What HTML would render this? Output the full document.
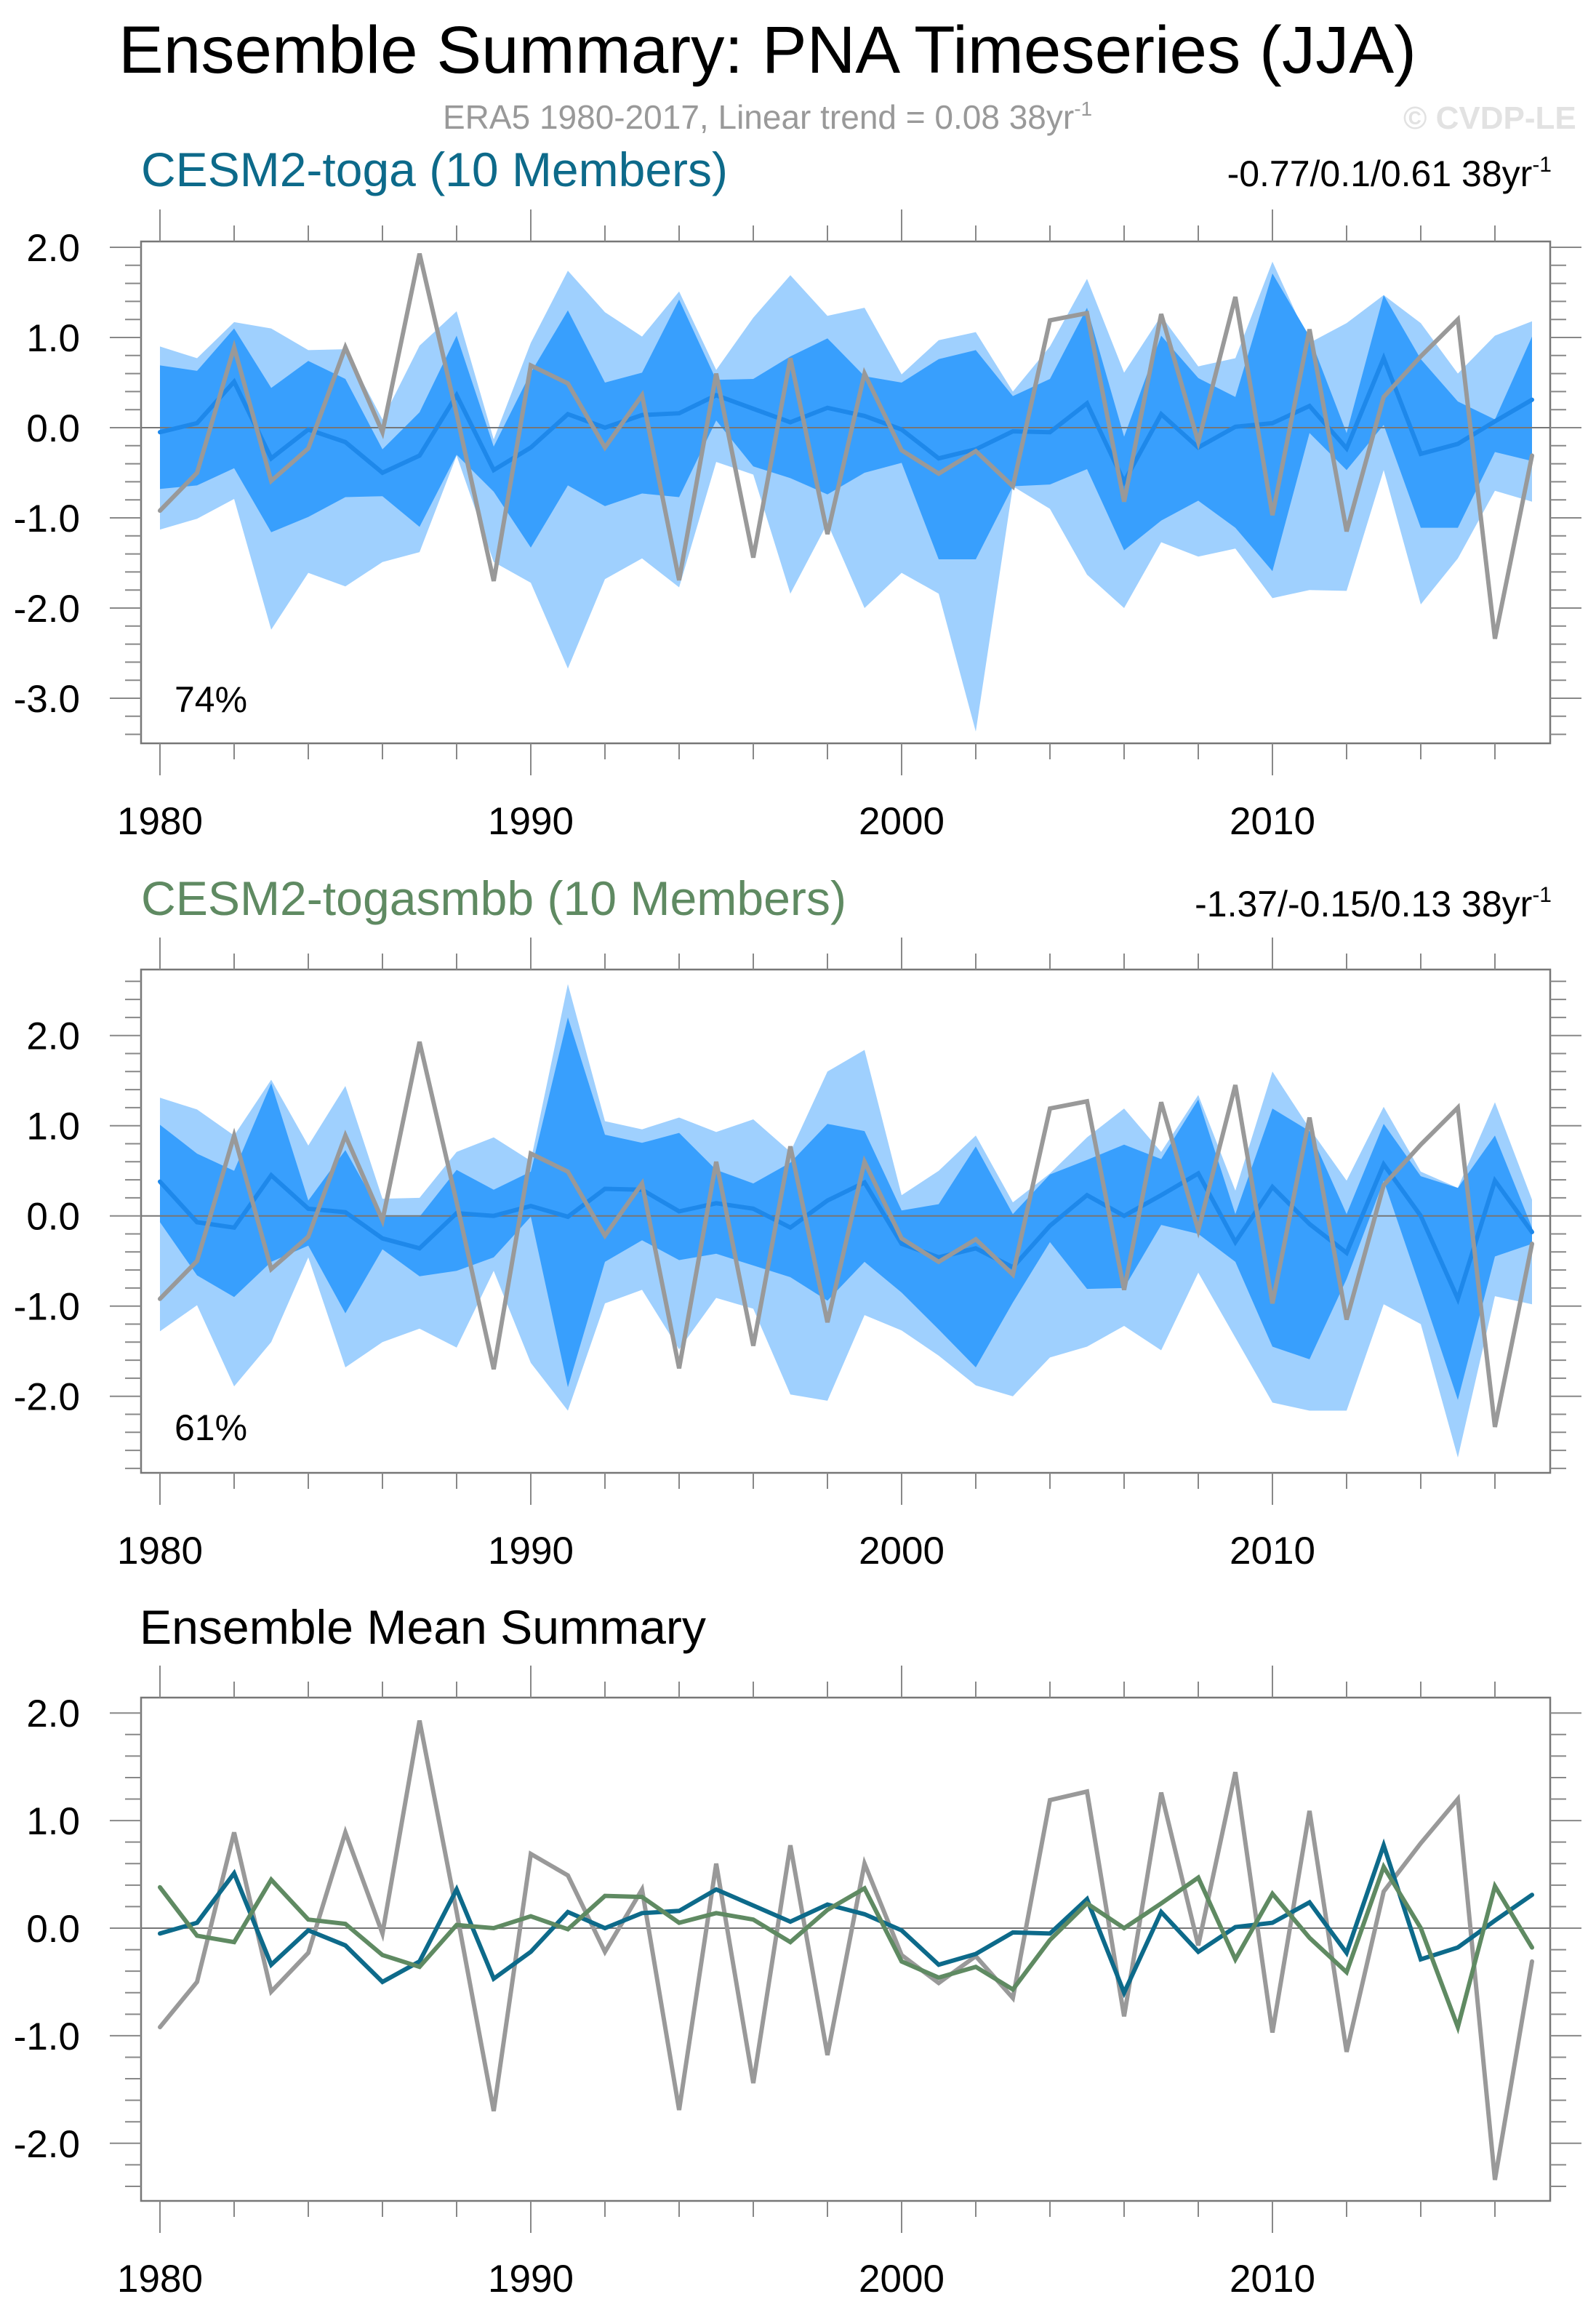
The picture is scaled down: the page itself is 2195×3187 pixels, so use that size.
<!DOCTYPE html>
<html><head><meta charset="utf-8"><title>Ensemble Summary: PNA Timeseries (JJA)</title>
<style>html,body{margin:0;padding:0;background:#fff}svg{display:block}text{font-family:"Liberation Sans",sans-serif}</style></head>
<body>
<svg id="chart" xmlns="http://www.w3.org/2000/svg" width="2195" height="3187" viewBox="0 0 2195 3187">
<rect width="2195" height="3187" fill="#fff"/>
<text x="163" y="100" font-size="92" fill="#000" textLength="1785" lengthAdjust="spacingAndGlyphs">Ensemble Summary: PNA Timeseries (JJA)</text>
<text x="609" y="177" font-size="46" fill="#999">ERA5 1980-2017, Linear trend = 0.08 38yr<tspan dy="-18" font-size="28">-1</tspan></text>
<text x="1930" y="177" font-size="44" font-weight="bold" fill="#e2e2e2">© CVDP-LE</text>
<text x="194" y="256" font-size="66" fill="#0d6a8a" textLength="807" lengthAdjust="spacingAndGlyphs">CESM2-toga (10 Members)</text>
<text x="2134" y="256" font-size="50" fill="#000" text-anchor="end">-0.77/0.1/0.61 38yr<tspan dy="-20" font-size="30">-1</tspan></text>
<text x="194" y="1258" font-size="66" fill="#5f8a62" textLength="970" lengthAdjust="spacingAndGlyphs">CESM2-togasmbb (10 Members)</text>
<text x="2134" y="1260" font-size="50" fill="#000" text-anchor="end">-1.37/-0.15/0.13 38yr<tspan dy="-20" font-size="30">-1</tspan></text>
<text x="192" y="2260" font-size="66" fill="#000" textLength="779" lengthAdjust="spacingAndGlyphs">Ensemble Mean Summary</text>
<g id="plots"></g>
</svg>
<script>
const years = [];
for (let y = 1980; y <= 2017; y++) years.push(y);
const era5 = [-0.92,-0.50,0.89,-0.59,-0.23,0.89,-0.05,1.93,0.15,-1.70,0.69,0.49,-0.22,0.36,-1.69,0.60,-1.44,0.77,-1.18,0.60,-0.25,-0.51,-0.26,-0.65,1.19,1.27,-0.82,1.26,-0.16,1.45,-0.97,1.09,-1.15,0.34,0.79,1.20,-2.34,-0.31];
const togaMean = [-0.05,0.05,0.51,-0.34,-0.02,-0.16,-0.50,-0.31,0.36,-0.47,-0.22,0.15,0.00,0.14,0.16,0.36,0.21,0.06,0.22,0.13,-0.02,-0.34,-0.24,-0.04,-0.05,0.27,-0.60,0.15,-0.22,0.01,0.05,0.24,-0.23,0.77,-0.29,-0.18,0.07,0.31];
const togaMax = [0.90,0.77,1.17,1.10,0.86,0.87,0.09,0.91,1.29,-0.13,0.94,1.74,1.28,1.01,1.51,0.64,1.22,1.69,1.24,1.33,0.59,0.97,1.06,0.40,0.90,1.65,0.61,1.24,0.68,0.77,1.84,0.94,1.16,1.47,1.16,0.60,1.02,1.18];
const togaHi = [0.69,0.63,1.10,0.44,0.74,0.54,-0.24,0.17,1.02,-0.21,0.61,1.30,0.50,0.61,1.42,0.53,0.54,0.79,0.99,0.57,0.50,0.76,0.86,0.35,0.54,1.33,-0.10,1.02,0.55,0.34,1.71,1.01,-0.06,1.47,0.76,0.29,0.09,1.01];
const togaLo = [-0.68,-0.64,-0.45,-1.16,-0.99,-0.77,-0.76,-1.10,-0.30,-0.71,-1.33,-0.64,-0.87,-0.73,-0.77,0.08,-0.43,-0.56,-0.74,-0.50,-0.39,-1.46,-1.46,-0.65,-0.63,-0.46,-1.36,-1.03,-0.81,-1.11,-1.59,-0.06,-0.47,0.03,-1.11,-1.11,-0.27,-0.37];
const togaMin = [-1.13,-1.01,-0.79,-2.24,-1.61,-1.76,-1.49,-1.38,-0.31,-1.49,-1.72,-2.67,-1.68,-1.45,-1.77,-0.38,-0.52,-1.84,-1.06,-2.00,-1.61,-1.84,-3.37,-0.65,-0.90,-1.63,-2.00,-1.27,-1.43,-1.34,-1.89,-1.80,-1.81,-0.47,-1.96,-1.45,-0.70,-0.82];
const smbbMean = [0.38,-0.07,-0.13,0.45,0.08,0.04,-0.25,-0.36,0.03,0.00,0.11,-0.01,0.30,0.29,0.05,0.14,0.08,-0.13,0.17,0.37,-0.31,-0.46,-0.36,-0.57,-0.11,0.23,0.00,0.23,0.47,-0.29,0.32,-0.09,-0.41,0.57,0.00,-0.92,0.39,-0.18];
const smbbMax = [1.31,1.18,0.89,1.51,0.78,1.44,0.19,0.20,0.71,0.87,0.61,2.57,1.05,0.96,1.09,0.93,1.07,0.71,1.60,1.84,0.23,0.50,0.89,0.15,0.47,0.87,1.19,0.71,1.34,0.28,1.60,0.97,0.39,1.21,0.49,0.31,1.26,0.18];
const smbbHi = [1.01,0.69,0.50,1.47,0.17,0.73,-0.01,-0.01,0.51,0.29,0.49,2.20,0.90,0.81,0.92,0.51,0.36,0.59,1.02,0.94,0.06,0.13,0.77,0.02,0.46,0.62,0.79,0.63,1.29,0.02,1.19,0.94,0.02,1.02,0.44,0.31,0.89,-0.13];
const smbbLo = [-0.07,-0.66,-0.90,-0.51,-0.33,-1.08,-0.37,-0.67,-0.61,-0.46,-0.01,-1.90,-0.51,-0.27,-0.49,-0.42,-0.55,-0.68,-0.94,-0.51,-0.85,-1.26,-1.68,-0.96,-0.29,-0.81,-0.80,-0.10,-0.20,-0.51,-1.45,-1.59,-0.70,0.39,-0.81,-2.04,-0.45,-0.31];
const smbbMin = [-1.28,-0.99,-1.89,-1.40,-0.46,-1.68,-1.40,-1.25,-1.46,-0.61,-1.63,-2.16,-0.97,-0.82,-1.48,-0.91,-1.03,-1.98,-2.05,-1.10,-1.27,-1.55,-1.88,-2.00,-1.57,-1.45,-1.22,-1.49,-0.63,-1.35,-2.07,-2.16,-2.16,-0.98,-1.20,-2.68,-0.89,-0.98];
const yTickLabels = ["2.0","1.0","0.0","-1.0","-2.0","-3.0"];
const yTickValues = [2,1,0,-1,-2,-3];
const xTickLabels = ["1980","1990","2000","2010"];

const NS = "http://www.w3.org/2000/svg";
const root = document.getElementById('plots');
function mk(tag, attrs, parent) {
  const e = document.createElementNS(NS, tag);
  for (const k in attrs) e.setAttribute(k, attrs[k]);
  (parent || root).appendChild(e);
  return e;
}
const X0 = 194, X1 = 2132;
function xs(yr) { return 220 + (yr - 1980) * 51.0; }

function panel(cfg) {
  const g = mk('g', {});
  
  
  const ys = v => cfg.zero - v * cfg.unit;
  const vTop = (cfg.zero - cfg.top) / cfg.unit, vBot = (cfg.zero - cfg.bot) / cfg.unit;
  const clipId = cfg.name + '-clip';
  const cp = mk('clipPath', {id: clipId}, g);
  mk('rect', {x: X0, y: cfg.top, width: X1 - X0, height: cfg.bot - cfg.top}, cp);
  const pg = mk('g', {'clip-path': 'url(#' + clipId + ')'}, g);
  function band(hi, lo, color, nm) {
    let d = '';
    years.forEach((yr, i) => { d += (i ? 'L' : 'M') + xs(yr).toFixed(1) + ',' + ys(hi[i]).toFixed(1); });
    for (let i = years.length - 1; i >= 0; i--) d += 'L' + xs(years[i]).toFixed(1) + ',' + ys(lo[i]).toFixed(1);
    const p = mk('path', {d: d + 'Z', fill: color}, pg);
    
    
  }
  function line(vals, color, w, nm) {
    const pts = years.map((yr, i) => xs(yr).toFixed(1) + ',' + ys(vals[i]).toFixed(1)).join(' ');
    const p = mk('polyline', {points: pts, fill: 'none', stroke: color, 'stroke-width': w, 'stroke-linejoin': 'miter', 'stroke-linecap': 'round'}, pg);
    
    
  }
  if (cfg.bands) {
    band(cfg.bands[0], cfg.bands[3], '#9fd0fe', 'minmax-band');
    band(cfg.bands[1], cfg.bands[2], '#389ffd', 'inner-band');
  }
  const zl = mk('line', {x1: X0, x2: X1, y1: ys(0), y2: ys(0), stroke: '#777', 'stroke-width': 2}, pg);
  
  
  cfg.lines.forEach(l => line(l[0], l[1], l[2], l[3]));
  const fr = mk('rect', {x: X0, y: cfg.top, width: X1 - X0, height: cfg.bot - cfg.top, fill: 'none', stroke: '#777', 'stroke-width': 2.5}, g);
  
  
  for (let k = Math.ceil(vBot * 5); k <= Math.floor(vTop * 5); k++) {
    const v = k / 5, y = ys(v), major = (k % 5 === 0), len = major ? 43 : 22;
    mk('line', {x1: X0 - len, x2: X0, y1: y, y2: y, stroke: '#888', 'stroke-width': 2}, g);
    mk('line', {x1: X1, x2: X1 + len, y1: y, y2: y, stroke: '#888', 'stroke-width': 2}, g);
  }
  yTickValues.forEach((v, i) => {
    if (v > vTop || v < vBot) return;
    const t = mk('text', {x: 110, y: ys(v) + 19, 'font-size': 53, 'text-anchor': 'end', fill: '#000'}, g);
    t.textContent = yTickLabels[i];
    
    
  });
  for (let yr = 1980; yr <= 2017; yr += 2) {
    const x = xs(yr), major = ((yr - 1980) % 10 === 0), len = major ? 44 : 22;
    mk('line', {x1: x, x2: x, y1: cfg.top - len, y2: cfg.top, stroke: '#888', 'stroke-width': 2}, g);
    mk('line', {x1: x, x2: x, y1: cfg.bot, y2: cfg.bot + len, stroke: '#888', 'stroke-width': 2}, g);
  }
  xTickLabels.forEach(lb => {
    const t = mk('text', {x: xs(+lb), y: cfg.bot + 125, 'font-size': 53, 'text-anchor': 'middle', fill: '#000'}, g);
    t.textContent = lb;
    
    
  });
  if (cfg.pct) {
    const t = mk('text', {x: 240, y: cfg.pctY, 'font-size': 50, fill: '#000'}, g);
    t.textContent = cfg.pct;
    
    
  }
}

panel({name: 'toga-panel', top: 332, bot: 1022, zero: 588, unit: 124,
  bands: [togaMax, togaHi, togaLo, togaMin],
  lines: [[togaMean, '#1e88ea', 6, 'toga-ensemble-mean'], [era5, '#999', 6, 'era5-line']],
  pct: '74%', pctY: 979});
panel({name: 'togasmbb-panel', top: 1333, bot: 2025, zero: 1671.7, unit: 124,
  bands: [smbbMax, smbbHi, smbbLo, smbbMin],
  lines: [[smbbMean, '#1e88ea', 6, 'togasmbb-ensemble-mean'], [era5, '#999', 6, 'era5-line']],
  pct: '61%', pctY: 1980});
panel({name: 'mean-summary-panel', top: 2334, bot: 3026, zero: 2651, unit: 147.9,
  bands: null,
  lines: [[era5, '#999', 6, 'era5-line'], [togaMean, '#0d6a8a', 6, 'toga-mean-line'], [smbbMean, '#5f8a62', 6, 'togasmbb-mean-line']]});
</script>
</body></html>
